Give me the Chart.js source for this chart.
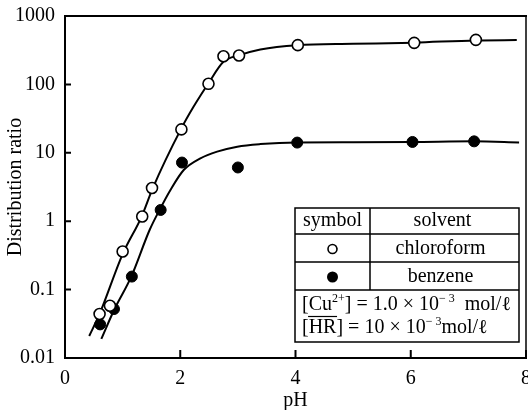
<!DOCTYPE html>
<html>
<head>
<meta charset="utf-8">
<script src="https://cdn.jsdelivr.net/npm/chart.js@4/dist/chart.umd.min.js"></script>
<style>
  html, body { margin: 0; padding: 0; background: #fff; }
</style>
</head>
<body>
<canvas id="c" width="528" height="410"></canvas>
<script>
// Measured distribution ratios of the Cu(II) chelate against pH
const chloroformPH = [0.60, 0.78, 1.00, 1.34, 1.51, 2.02, 2.49, 2.75, 3.02, 4.04, 6.06, 7.13];
const chloroformD  = [0.044, 0.058, 0.36, 1.17, 3.06, 22, 102, 258, 265, 375, 405, 448];
const benzenePH    = [0.61, 0.85, 1.16, 1.66, 2.03, 3.00, 4.03, 6.03, 7.10];
const benzeneD     = [0.031, 0.052, 0.155, 1.46, 7.2, 6.1, 14.1, 14.4, 14.7];

// Fitted curves drawn through the data
const chloroformCurvePH = [0.42, 0.60, 1.00, 1.33, 1.52, 2.01, 2.23, 2.49, 2.75, 3.03, 3.39, 4.03, 5.00, 6.06, 7.13, 7.84];
const chloroformCurveD  = [0.021, 0.044, 0.33, 1.17, 3.0, 22, 47, 104, 214, 268, 324, 375, 392, 408, 440, 444];
const benzeneCurvePH    = [0.63, 0.86, 1.15, 1.47, 1.65, 1.83, 2.06, 2.35, 2.64, 2.99, 3.39, 4.03, 5.00, 6.03, 7.10, 7.88];
const benzeneCurveD     = [0.019, 0.052, 0.155, 0.75, 1.51, 2.86, 5.6, 8.3, 10.4, 12.3, 13.4, 14.2, 14.3, 14.4, 14.7, 14.2];

// Axis ticks
const xTicks = [0, 2, 4, 6, 8];
const yTicks = [0.01, 0.1, 1, 10, 100, 1000];
const yTickLabels = ['0.01', '0.1', '1', '10', '100', '1000'];

const FONT = '"Liberation Serif", "Times New Roman", serif';
const pts = (xs, ys) => xs.map((x, i) => ({ x, y: ys[i] }));

// Frame, inward tick marks and the symbol/solvent table
const decorations = {
  id: 'decorations',
  afterDraw(chart) {
    const ctx = chart.ctx;
    const { left, right, top, bottom } = chart.chartArea;
    const xs = chart.scales.x, ys = chart.scales.y;
    ctx.save();
    ctx.strokeStyle = '#000';
    ctx.lineCap = 'square';
    // frame
    ctx.lineWidth = 2;
    ctx.beginPath();
    ctx.moveTo(left, top); ctx.lineTo(left, bottom); ctx.lineTo(right, bottom);
    ctx.moveTo(left, top); ctx.lineTo(right, top);
    ctx.stroke();
    ctx.lineWidth = 1.5;
    ctx.beginPath();
    ctx.moveTo(right, top); ctx.lineTo(right, bottom);
    ctx.stroke();
    // inward ticks
    ctx.lineWidth = 2;
    ctx.beginPath();
    xTicks.forEach(v => {
      const px = xs.getPixelForValue(v);
      ctx.moveTo(px, bottom); ctx.lineTo(px, bottom - 7);
    });
    yTicks.forEach(v => {
      const py = ys.getPixelForValue(v);
      ctx.moveTo(left, py); ctx.lineTo(left + 5, py);
    });
    ctx.stroke();

    // table
    const tL = 295, tR = 519, tT = 208, r1 = 234, r2 = 262, r3 = 290, tB = 342, col = 370;
    ctx.fillStyle = '#fff';
    ctx.fillRect(tL, tT, tR - tL, tB - tT);
    ctx.lineWidth = 1.5;
    ctx.beginPath();
    ctx.rect(tL, tT, tR - tL, tB - tT);
    [r1, r2, r3].forEach(y => { ctx.moveTo(tL, y); ctx.lineTo(tR, y); });
    ctx.moveTo(col, tT); ctx.lineTo(col, r3);
    ctx.stroke();

    ctx.fillStyle = '#000';
    ctx.font = '20px ' + FONT;
    ctx.textAlign = 'center';
    ctx.textBaseline = 'middle';
    ctx.fillText('symbol', (tL + col) / 2, (tT + r1) / 2);
    ctx.fillText('solvent', (col + tR) / 2 - 2, (tT + r1) / 2);
    ctx.fillText('chloroform', (col + tR) / 2 - 4, (r1 + r2) / 2 + 1);
    ctx.fillText('benzene', (col + tR) / 2 - 4, (r2 + r3) / 2 + 1);
    // symbols
    ctx.lineWidth = 1.6;
    ctx.beginPath();
    ctx.arc((tL + col) / 2, (r1 + r2) / 2 + 1, 4.5, 0, Math.PI * 2);
    ctx.stroke();
    ctx.beginPath();
    ctx.arc((tL + col) / 2, (r2 + r3) / 2 + 1, 5.5, 0, Math.PI * 2);
    ctx.fill();

    // condition lines with superscripts
    ctx.textAlign = 'left';
    ctx.textBaseline = 'alphabetic';
    const runs = (x, y, parts) => {
      const spans = [];
      parts.forEach(p => {
        ctx.font = (p.sup ? '12px ' : '20px ') + FONT;
        const w = ctx.measureText(p.t).width;
        ctx.fillText(p.t, x, p.sup ? y - 8 : y);
        spans.push({ x0: x, x1: x + w, bar: p.bar });
        x += w;
      });
      return spans;
    };
    runs(302, 310, [
      { t: '[Cu' }, { t: '2+', sup: true }, { t: '] = 1.0 × 10' },
      { t: '\u2212 3', sup: true }, { t: '  mol/\u2113' }
    ]);
    const s2 = runs(302, 333, [
      { t: '[' }, { t: 'HR', bar: true }, { t: '] = 10 × 10' },
      { t: '\u2212 3', sup: true }, { t: 'mol/\u2113' }
    ]);
    ctx.lineWidth = 1.2;
    ctx.beginPath();
    s2.filter(s => s.bar).forEach(s => { ctx.moveTo(s.x0, 316.5); ctx.lineTo(s.x1, 316.5); });
    ctx.stroke();
    ctx.restore();
  }
};

new Chart(document.getElementById('c'), {
  type: 'scatter',
  data: {
    datasets: [
      {
        label: 'chloroform',
        data: pts(chloroformPH, chloroformD),
        pointStyle: 'circle',
        pointRadius: 5.5,
        pointBorderWidth: 1.6,
        pointBackgroundColor: '#fff',
        pointBorderColor: '#000',
        showLine: false
      },
      {
        label: 'benzene',
        data: pts(benzenePH, benzeneD),
        pointStyle: 'circle',
        pointRadius: 5.5,
        pointBorderWidth: 1,
        pointBackgroundColor: '#000',
        pointBorderColor: '#000',
        showLine: false
      },
      {
        label: 'chloroform fit',
        data: pts(chloroformCurvePH, chloroformCurveD),
        showLine: true,
        pointRadius: 0,
        borderColor: '#000',
        borderWidth: 2,
        cubicInterpolationMode: 'monotone',
        fill: false
      },
      {
        label: 'benzene fit',
        data: pts(benzeneCurvePH, benzeneCurveD),
        showLine: true,
        pointRadius: 0,
        borderColor: '#000',
        borderWidth: 2,
        cubicInterpolationMode: 'monotone',
        fill: false
      }
    ]
  },
  options: {
    responsive: false,
    animation: false,
    events: [],
    layout: { autoPadding: false, padding: { top: 16, right: 2, left: 0, bottom: 0 } },
    plugins: { legend: { display: false }, tooltip: { enabled: false } },
    scales: {
      x: {
        type: 'linear',
        min: 0, max: 8,
        afterFit: s => { s.height = 52; s.paddingLeft = 0; s.paddingRight = 0; },
        afterBuildTicks: s => { s.ticks = xTicks.map(v => ({ value: v })); },
        grid: { display: false, drawTicks: false },
        border: { display: false },
        ticks: { color: '#000', padding: 9, maxRotation: 0, font: { family: FONT, size: 20 } },
        title: { display: true, text: 'pH', color: '#000', padding: { top: 0, bottom: -3 }, font: { family: FONT, size: 20 } }
      },
      y: {
        type: 'logarithmic',
        min: 0.01, max: 1000,
        afterFit: s => { s.width = 65; s.paddingTop = 0; s.paddingBottom = 0; },
        afterBuildTicks: s => { s.ticks = yTicks.map(v => ({ value: v })); },
        grid: { display: false, drawTicks: false },
        border: { display: false },
        ticks: {
          color: '#000', padding: 10, font: { family: FONT, size: 20 },
          callback: (v) => { const i = yTicks.indexOf(v); return i >= 0 ? yTickLabels[i] : ''; }
        },
        title: { display: true, text: 'Distribution ratio', color: '#000', padding: { top: 4, bottom: 0 }, font: { family: FONT, size: 20 } }
      }
    }
  },
  plugins: [decorations]
});
</script>
</body>
</html>
